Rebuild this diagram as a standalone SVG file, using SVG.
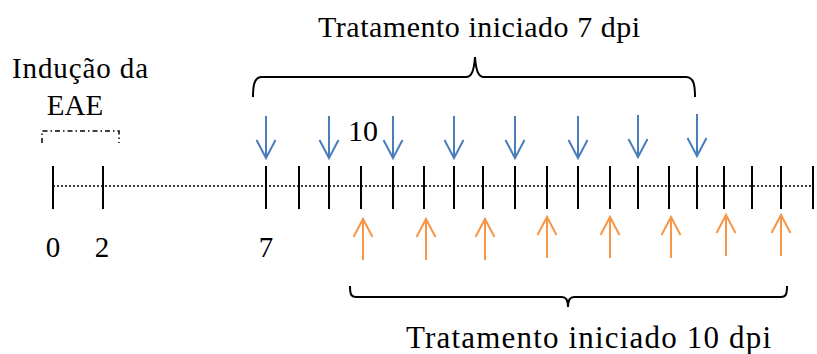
<svg xmlns="http://www.w3.org/2000/svg" width="817" height="354" viewBox="0 0 817 354">
<style>
.tick{stroke:#000;stroke-width:2;fill:none}
.axis{stroke:#000;stroke-width:1.6;stroke-dasharray:2 2;fill:none}
.brace{stroke:#000;stroke-width:2;fill:none}
.blue{stroke:#4A7EBB;stroke-width:2;fill:none}
.orange{stroke:#F79646;stroke-width:2;fill:none}
.dd{stroke:#000;stroke-width:1.5;fill:none;stroke-dasharray:5 3 1.5 3}
</style>
<defs>
<g id="down"><path d="M0,-42V0M-9.5,-18L0,0L9.5,-18"/></g>
<g id="up"><path d="M0,41V0M-9.5,18L0,0L9.5,18"/></g>
</defs>
<rect width="817" height="354" fill="#fff"/>

<g id="axis">
<path class="axis" d="M53,186H813"/>
<path class="tick" d="M53,166V209M103,166V209M266,166V209M299,166V209M329,166V209M361,166V209M393,166V209M424,166V209M454,166V209M483,166V209M515,166V209M547,166V209M578,166V209M610,166V209M638,166V209M669,166V209M697,166V209M724,166V209M752,166V209M781,166V209M813,166V209"/>
</g>

<g id="labels" font-family="Liberation Serif, Times New Roman, serif" fill="#000">
<text x="53" y="257" font-size="29" text-anchor="middle">0</text>
<text x="102" y="257" font-size="29" text-anchor="middle">2</text>
<text x="266" y="257" font-size="29" text-anchor="middle">7</text>
<text x="363" y="141" font-size="30" text-anchor="middle">10</text>
</g>

<g id="inducao" font-family="Liberation Serif, Times New Roman, serif" fill="#000">
<text x="12" y="78" font-size="29" textLength="136" lengthAdjust="spacing">Indução da</text>
<text x="75" y="115" font-size="29" text-anchor="middle">EAE</text>
<path class="dd" d="M42,143V131H119V143"/>
</g>

<g id="brace-top" font-family="Liberation Serif, Times New Roman, serif" fill="#000">
<path class="brace" d="M253,97C253,86 254,77 262,77H466C472,77 474,70 475,57C476,70 478,77 484,77H686C694,77 695,86 695,97"/>
<text x="318" y="37" font-size="30" textLength="322" lengthAdjust="spacing">Tratamento iniciado 7 dpi</text>
</g>

<g id="brace-bottom" font-family="Liberation Serif, Times New Roman, serif" fill="#000">
<path class="brace" d="M350,286C350,294 351,297 356,297H562C566,297 568,300 568,307C568,300 570,297 574,297H781C786,297 787,294 787,286"/>
<text x="406" y="348" font-size="31" textLength="365" lengthAdjust="spacing">Tratamento iniciado 10 dpi</text>
</g>

<g id="connectors">
<g class="blue">
<use href="#down" x="266" y="158"/>
<use href="#down" x="329" y="158"/>
<use href="#down" x="393" y="158"/>
<use href="#down" x="454" y="158"/>
<use href="#down" x="515" y="158"/>
<use href="#down" x="578" y="158"/>
<use href="#down" x="638" y="157"/>
<use href="#down" x="697" y="156"/>
</g>
<g class="orange">
<use href="#up" x="363" y="219"/>
<use href="#up" x="426" y="219"/>
<use href="#up" x="485" y="219"/>
<use href="#up" x="547" y="217"/>
<use href="#up" x="610" y="217"/>
<use href="#up" x="671" y="217"/>
<use href="#up" x="726" y="215"/>
<use href="#up" x="781" y="215"/>
</g>
</g>
</svg>
